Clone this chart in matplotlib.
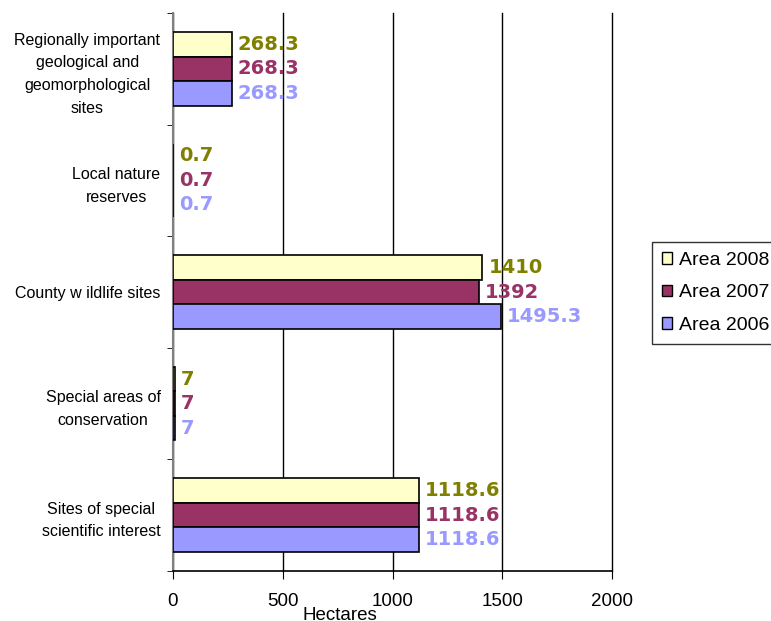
import numpy as np
import matplotlib
matplotlib.use("Agg")
import matplotlib.pyplot as plt
from matplotlib.patches import Patch

plt.rcParams['font.family'] = ['Liberation Sans', 'DejaVu Sans']

# site categories, bottom to top as drawn
categories = ["Sites of special\nscientific interest",
              "Special areas of\nconservation",
              "County w ildlife sites",
              "Local nature\nreserves",
              "Regionally important\ngeological and\ngeomorphological\nsites"]
area2008 = [1118.6, 7, 1410, 0.7, 268.3]
area2007 = [1118.6, 7, 1392, 0.7, 268.3]
area2006 = [1118.6, 7, 1495.3, 0.7, 268.3]
series_names = ["Area 2008", "Area 2007", "Area 2006"]
fill_cols = ["#FFFFCC", "#993366", "#9999FF"]
text_cols = ["#808000", "#993366", "#9999FF"]
xticks = [0, 500, 1000, 1500, 2000]

fig = plt.figure(figsize=(7.71, 6.21), dpi=100)
ax = fig.add_axes([173/771, 1-571/621, (612-173)/771, (571-13)/621])

y = np.arange(len(categories))
h = 0.22
offsets = [h, 0, -h]
for vals, off, fc, tc in zip([area2008, area2007, area2006], offsets, fill_cols, text_cols):
    ax.barh(y + off, vals, height=h, color=fc, edgecolor="black", linewidth=1.2, zorder=3)
    for yi, v in zip(y, vals):
        ax.text(v + 27, yi + off, f"{v:g}", color=tc, fontsize=14, fontweight="bold",
                family="DejaVu Sans", va="center", ha="left", zorder=4)

ax.set_xlim(0, 2000)
ax.set_ylim(-0.5, len(categories) - 0.5)
ax.set_xticks(xticks)
ax.set_xticklabels([str(t) for t in xticks], fontsize=13.5)
ax.set_yticks(y)
ax.set_yticklabels(categories, fontsize=11.5, linespacing=1.65, multialignment="center")
ax.tick_params(axis="y", length=0, pad=9)
ax.set_yticks(np.arange(-0.5, len(categories)), minor=True)
ax.tick_params(axis="y", which="minor", length=4, direction="out")
ax.tick_params(axis="x", length=6, direction="out", pad=10)
ax.xaxis.grid(True, color="black", linewidth=1)
for gl in ax.get_xgridlines():
    gl.set_clip_on(False)
ax.set_axisbelow(True)
for s in ["top", "right"]:
    ax.spines[s].set_visible(False)
ax.spines["left"].set_linewidth(1.5)
ax.spines["left"].set_color("#808080")
ax.spines["bottom"].set_linewidth(1.2)
ax.set_xlabel("Hectares", fontsize=13.5)
ax.xaxis.set_label_coords(0.38, -0.064)

handles = [Patch(facecolor=c, edgecolor="black") for c in fill_cols]
leg = fig.legend(handles, series_names, loc="upper left", bbox_to_anchor=(652/771, 1-242/621),
                 fontsize=14, frameon=True, fancybox=False, handlelength=0.55, handleheight=0.55,
                 handletextpad=0.35, labelspacing=0.8, borderpad=0.5, borderaxespad=0)
leg.get_frame().set_edgecolor("black")
leg.get_frame().set_linewidth(1)

fig.savefig("out.png", dpi=100)
